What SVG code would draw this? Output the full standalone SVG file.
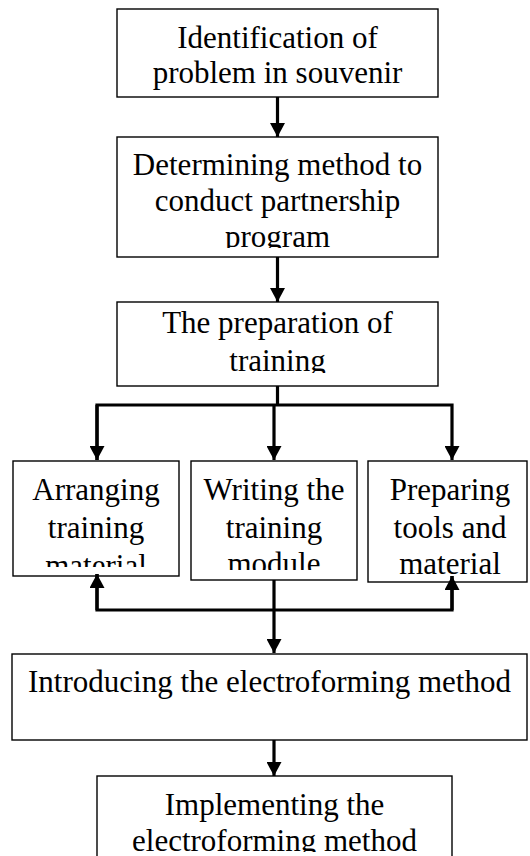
<svg xmlns="http://www.w3.org/2000/svg" width="530" height="856" viewBox="0 0 530 856">
<style>
.box{fill:#fff;stroke:#000;stroke-width:1.4}
.t{font-family:"Liberation Serif","Times New Roman",serif;font-size:31px;fill:#000;text-anchor:middle}
.c{fill:none;stroke:#000;stroke-width:3.2}
</style>
<defs>
<marker id="ah" markerUnits="userSpaceOnUse" markerWidth="15" markerHeight="15" refX="14" refY="7.5" orient="auto">
<path d="M0,0 L14,7.5 L0,15 z" fill="#000"/>
</marker>
<clipPath id="c2"><rect x="117" y="137" width="321" height="111"/></clipPath>
<clipPath id="c3"><rect x="117" y="302" width="321" height="71"/></clipPath>
<clipPath id="cA"><rect x="13" y="461" width="166" height="106"/></clipPath>
<clipPath id="cB"><rect x="191" y="461" width="166" height="109"/></clipPath>
<clipPath id="cE"><rect x="97" y="776" width="355" height="76"/></clipPath>
</defs>
<g id="n1">
<rect class="box" x="117" y="9" width="321" height="88"/>
<text class="t" x="277.5" y="48">Identification of</text>
<text class="t" x="277.5" y="83">problem in souvenir</text>
</g>
<g id="n2">
<rect class="box" x="117" y="137" width="321" height="120"/>
<g clip-path="url(#c2)">
<text class="t" x="277.5" y="175">Determining method to</text>
<text class="t" x="277.5" y="211">conduct partnership</text>
<text class="t" x="277.5" y="247">program</text>
</g>
</g>
<g id="n3">
<rect class="box" x="117" y="302" width="321" height="84"/>
<g clip-path="url(#c3)">
<text class="t" x="277.5" y="333">The preparation of</text>
<text class="t" x="277.5" y="371">training</text>
</g>
</g>
<g id="nA">
<rect class="box" x="13" y="461" width="166" height="115"/>
<g clip-path="url(#cA)">
<text class="t" x="96" y="500">Arranging</text>
<text class="t" x="96" y="538">training</text>
<text class="t" x="96" y="576">material</text>
</g>
</g>
<g id="nB">
<rect class="box" x="191" y="461" width="166" height="119"/>
<g clip-path="url(#cB)">
<text class="t" x="274" y="500">Writing the</text>
<text class="t" x="274" y="538">training</text>
<text class="t" x="274" y="574">module</text>
</g>
</g>
<g id="nC">
<rect class="box" x="368" y="461" width="159" height="121"/>
<text class="t" x="450" y="500">Preparing</text>
<text class="t" x="450" y="538">tools and</text>
<text class="t" x="450" y="574">material</text>
</g>
<g id="nD">
<rect class="box" x="12" y="654" width="515" height="86"/>
<text class="t" x="269.5" y="692">Introducing the electroforming method</text>
</g>
<g id="nE">
<rect class="box" x="97" y="776" width="355" height="90"/>
<g clip-path="url(#cE)">
<text class="t" x="274.5" y="815">Implementing the</text>
<text class="t" x="274.5" y="851">electroforming method</text>
</g>
</g>
<g id="connectors">
<line class="c" x1="277.5" y1="97" x2="277.5" y2="137" marker-end="url(#ah)"/>
<line class="c" x1="277.5" y1="257" x2="277.5" y2="302" marker-end="url(#ah)"/>
<polyline class="c" points="277.5,386 277.5,405"/>
<polyline class="c" points="97,460 97,405 452,405 452,460" marker-end="url(#ah)"/>
<line class="c" x1="97" y1="405" x2="97" y2="460" marker-end="url(#ah)"/>
<line class="c" x1="274" y1="405" x2="274" y2="460" marker-end="url(#ah)"/>
<polyline class="c" points="97,574 97,610 452,610 452,576"/>
<line class="c" x1="97" y1="610" x2="97" y2="574" marker-end="url(#ah)"/>
<line class="c" x1="452" y1="610" x2="452" y2="576" marker-end="url(#ah)"/>
<line class="c" x1="274" y1="580" x2="274" y2="653" marker-end="url(#ah)"/>
<line class="c" x1="274" y1="740" x2="274" y2="776" marker-end="url(#ah)"/>
</g>
</svg>
